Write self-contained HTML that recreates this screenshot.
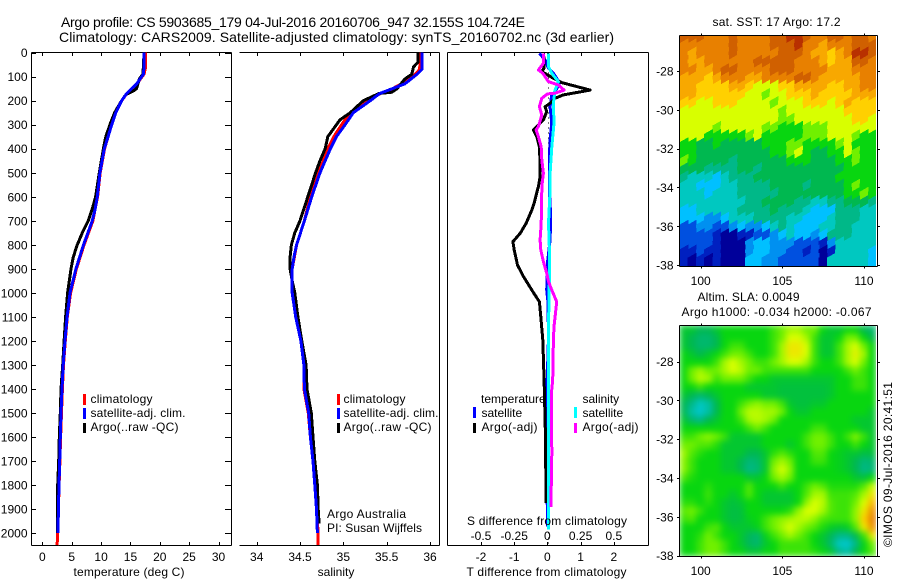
<!DOCTYPE html>
<html lang="en">
<head>
<meta charset="utf-8">
<title>Argo profile 5903685_179</title>
<style>
html,body{margin:0;padding:0;background:#fff}
svg{display:block}
text{font-family:"Liberation Sans",sans-serif;font-size:12px;fill:#000}
.t14{font-size:14px}
</style>
</head>
<body>
<svg id="fig" width="900" height="580" viewBox="0 0 900 580" xmlns="http://www.w3.org/2000/svg">
<defs>
<clipPath id="clipT"><rect x="31" y="52" width="201" height="494"/></clipPath>
<clipPath id="clipS"><rect x="239" y="52" width="201" height="494"/></clipPath>
<clipPath id="clipD"><rect x="447" y="52" width="202" height="494"/></clipPath>
<clipPath id="clipM1"><rect x="680" y="35" width="196" height="231"/></clipPath>
<clipPath id="clipM2"><rect x="680" y="325" width="196" height="231"/></clipPath>
<filter id="smooth" x="0" y="0" width="100%" height="100%" color-interpolation-filters="sRGB"><feGaussianBlur stdDeviation="3.2" edgeMode="duplicate"/></filter>
</defs>
<rect width="900" height="580" fill="#fff"/>
<text class="t14" x="61" y="27" textLength="464" lengthAdjust="spacing">Argo profile: CS 5903685_179 04-Jul-2016 20160706_947 32.155S 104.724E</text>
<text class="t14" x="59" y="42" textLength="555" lengthAdjust="spacing">Climatology: CARS2009. Satellite-adjusted climatology: synTS_20160702.nc (3d earlier)</text>

<g id="panelT"></g>
<g id="panelS"></g>
<g id="panelD"></g>
<g id="map1"></g>
<g id="map2"></g>

<text x="129" y="576" text-anchor="middle" textLength="111" lengthAdjust="spacing">temperature (deg C)</text>
<text x="336" y="576" text-anchor="middle">salinity</text>
<text x="546.5" y="576" text-anchor="middle" textLength="160" lengthAdjust="spacing">T difference from climatology</text>
<text x="547" y="525" text-anchor="middle" textLength="160" lengthAdjust="spacing">S difference from climatology</text>

<g>
<rect x="83" y="394" width="3" height="11" fill="#f00"/>
<rect x="83" y="408" width="3" height="11" fill="#00f"/>
<rect x="83" y="423" width="3" height="10" fill="#000"/>
<text x="90.5" y="403" textLength="62" lengthAdjust="spacing">climatology</text>
<text x="90.5" y="417" textLength="95" lengthAdjust="spacing">satellite-adj. clim.</text>
<text x="90.5" y="431" textLength="88" lengthAdjust="spacing">Argo(..raw -QC)</text>
</g>
<g>
<rect x="337" y="394" width="3" height="11" fill="#f00"/>
<rect x="337" y="408" width="3" height="11" fill="#00f"/>
<rect x="337" y="423" width="3" height="10" fill="#000"/>
<text x="343.5" y="403" textLength="62" lengthAdjust="spacing">climatology</text>
<text x="343.5" y="417" textLength="95" lengthAdjust="spacing">satellite-adj. clim.</text>
<text x="343.5" y="431" textLength="88" lengthAdjust="spacing">Argo(..raw -QC)</text>
</g>
<g>
<text x="481" y="403">temperature</text>
<rect x="473" y="407" width="3" height="11" fill="#00f"/>
<rect x="473" y="423" width="3" height="10" fill="#000"/>
<text x="481.5" y="417">satellite</text>
<text x="481.5" y="431" textLength="56" lengthAdjust="spacing">Argo(-adj)</text>
<text x="582.5" y="403">salinity</text>
<rect x="574" y="407" width="3" height="11" fill="#0ff"/>
<rect x="574" y="423" width="3" height="10" fill="#f0f"/>
<text x="582.5" y="417">satellite</text>
<text x="582.5" y="431" textLength="56" lengthAdjust="spacing">Argo(-adj)</text>
</g>
<text x="327" y="518" textLength="79" lengthAdjust="spacing">Argo Australia</text>
<text x="327" y="532" textLength="95" lengthAdjust="spacing">PI: Susan Wijffels</text>

<text x="712.5" y="26" textLength="128" lengthAdjust="spacing">sat. SST: 17 Argo: 17.2</text>
<text x="697.5" y="301" textLength="102" lengthAdjust="spacing">Altim. SLA: 0.0049</text>
<text x="681.5" y="316" textLength="190" lengthAdjust="spacing">Argo h1000: -0.034 h2000: -0.067</text>
<text transform="translate(892,547) rotate(-90)" textLength="165" lengthAdjust="spacing">©IMOS 09-Jul-2016 20:41:51</text>
</svg>

<script>
// ---------- temperature panel data (deg C) ----------
const climTempDepth = [0,60,90,130,170,200,250,300,350,400,500,600,650,700,800,900,1000,1100,1200,1300,1400,1500,1600,1700,1800,1900,2000,2050];
const climTemp = [17.6,17.6,17.3,16.1,14.4,13.5,12.5,11.8,11.2,10.6,9.85,9.4,9.0,8.6,7.1,5.8,4.8,4.25,3.9,3.6,3.4,3.25,3.1,2.98,2.85,2.72,2.6,2.5];
const satTempDepth = [0,60,90,130,170,200,250,300,350,400,500,600,650,700,800,900,1000,1100,1200,1300,1400,1500,1600,1700,1800,1900,2000];
const satTemp = [17.3,17.3,17.2,16.06,14.36,13.5,12.5,11.8,11.2,10.55,9.8,9.35,9.0,8.5,7.0,5.7,4.7,4.2,3.85,3.55,3.34,3.17,3.05,2.95,2.83,2.72,2.66];
const argoTempDepth = [0,60,90,110,150,160,175,200,250,300,350,400,500,600,650,700,750,800,850,900,1000,1100,1200,1300,1400,1500,1600,1700,1800,1900,2000];
const argoTemp = [17.3,17.2,17.1,16.5,16.05,15.5,14.2,13.5,12.3,11.5,10.8,10.4,9.7,9.07,8.5,7.8,6.8,5.95,5.27,4.87,4.3,3.95,3.7,3.45,3.17,3.05,2.88,2.77,2.6,2.6,2.6];
const tempTicks = [0,5,10,15,20,25,30];
const depthTicks = [0,100,200,300,400,500,600,700,800,900,1000,1100,1200,1300,1400,1500,1600,1700,1800,1900,2000];

// ---------- salinity panel data (psu) ----------
const climSalDepth = [0,70,90,130,150,170,200,250,300,350,400,450,500,600,700,800,900,1000,1100,1200,1300,1400,1500,1600,1700,1800,1900,2000,2050];
const climSal = [35.89,35.88,35.83,35.67,35.57,35.43,35.28,35.08,34.98,34.89,34.82,34.77,34.71,34.62,34.55,34.46,34.41,34.41,34.45,34.51,34.545,34.545,34.595,34.62,34.65,34.67,34.69,34.71,34.71];
const satSalDepth = [0,70,90,130,170,200,250,300,350,400,450,500,600,700,800,850,900,1000,1100,1200,1300,1400,1500,1600,1700,1800,1900,2000];
const satSal = [35.907,35.907,35.85,35.71,35.42,35.31,35.115,35.02,34.92,34.85,34.79,34.73,34.635,34.55,34.46,34.43,34.41,34.41,34.45,34.51,34.545,34.55,34.6,34.62,34.65,34.67,34.69,34.7];
const argoSalDepth = [0,40,60,90,110,150,165,170,200,220,250,280,320,350,400,450,500,600,700,750,800,850,900,950,1000,1100,1200,1300,1400,1500,1600,1700,1800,1900,1960];
const argoSal = [35.86,35.86,35.81,35.79,35.71,35.62,35.56,35.41,35.23,35.17,35.08,34.96,34.88,34.82,34.79,34.73,34.68,34.59,34.5,34.44,34.4,34.385,34.385,34.41,34.44,34.475,34.52,34.57,34.58,34.63,34.65,34.67,34.7,34.71,34.72];
const salTicks = [34,34.5,35,35.5,36];

// ---------- difference panel data ----------
const satTDiffDepth = [3,31,65,86,107,128,163,176,225,294,364,433,558,572,683,780,877,988,1043,1196,1432,1598,1916,1972];
const satTDiff = [-0.24,-0.07,0.03,0.18,0.28,0.36,0.23,0.13,0.08,0.13,0.08,0.06,0.06,0.06,0.1,0.08,0,-0.02,0.02,0.03,-0.02,-0.04,0,0.01];
const argoTDiffDepth = [3,30,65,79,107,125,156,176,190,211,225,246,280,322,350,392,461,516,558,572,627,655,710,752,787,821,884,932,988,1037,1099,1196,1362,1466,1584,1875];
const argoTDiff = [-0.12,-0.1,-0.1,-0.17,0.18,0.43,1.29,0.48,0.23,0.08,-0.07,-0.02,-0.12,-0.42,-0.32,-0.24,-0.22,-0.22,-0.27,-0.3,-0.4,-0.47,-0.64,-0.82,-1.04,-1.0,-0.9,-0.72,-0.47,-0.24,-0.2,-0.14,-0.1,-0.08,-0.06,-0.04];
const satSDiffDepth = [3,59,86,121,156,211,294,392,502,558,572,710,821,932,1140,1362,1500,1916,1985];
const satSDiff = [0.008,0.008,0.033,0.083,0.058,0.045,0.05,0.033,0.02,0.02,0.02,0.008,0.015,0.015,0.008,0.008,0.01,0.008,0.008];
const argoSDiffDepth = [3,45,72,86,121,135,156,169,172,190,225,260,308,322,350,392,447,502,558,572,710,780,821,870,918,953,988,1037,1099,1140,1196,1362,1418,1668,1890];
const argoSDiff = [-0.03,-0.03,-0.068,-0.035,0.008,0.083,0.126,0.058,0,-0.042,-0.06,-0.042,-0.068,-0.085,-0.068,-0.047,-0.042,-0.03,-0.042,-0.042,-0.047,-0.055,-0.05,-0.03,-0.005,0.008,0.033,0.07,0.058,0.05,0.045,0.04,0.03,0.033,0.026];
const tDiffTicks = [-2,-1,0,1,2];
const sDiffTicks = [-0.5,-0.25,0,0.25,0.5];
const sDiffTickLabels = ['-0.5','-0.25','0','0.25','0.5'];

// ---------- map axes ----------
const lonTicks = [100,105,110];
const latTicks = [-28,-30,-32,-34,-36,-38];

// ---------- SST map grid, colour level per cell, north to south ----------
const sstGrid = [
[14,14,14,13,13,13,14,13,13,13,13,14,14,15,15,14,13,13,14,14,13,14,14,13],
[13,13,13,13,13,13,14,13,13,13,13,14,14,14,15,13,13,12,13,13,13,14,14,14],
[13,12,13,13,13,13,14,13,13,13,13,13,14,14,14,13,12,12,11,12,13,15,15,14],
[13,12,12,13,13,13,13,13,13,14,14,14,14,14,13,13,13,12,11,12,12,14,14,13],
[13,13,12,12,13,14,14,13,13,13,13,14,14,14,13,13,13,13,12,12,12,13,13,13],
[12,12,12,11,12,13,13,13,12,12,13,13,13,13,14,14,13,12,12,12,12,12,13,13],
[12,12,11,11,11,11,12,12,11,10,10,10,11,11,12,12,12,12,11,11,12,12,13,13],
[12,12,11,11,11,11,11,11,10,10,9,10,10,11,11,11,12,11,11,11,11,12,12,12],
[11,11,10,10,11,11,11,10,10,10,10,9,10,10,10,11,11,11,10,11,12,11,11,11],
[10,10,10,10,10,10,10,10,10,10,10,10,9,10,10,10,10,10,10,10,11,11,11,11],
[10,10,10,10,10,10,10,10,10,10,10,10,9,9,10,10,10,10,10,10,10,11,11,10],
[10,10,10,10,9,10,10,10,10,10,9,9,8,8,8,9,9,9,10,10,10,10,10,10],
[10,10,10,8,8,8,8,8,9,10,8,8,8,8,8,9,9,9,10,10,10,9,8,8],
[8,8,7,7,8,7,7,7,7,7,8,8,8,9,9,8,8,8,8,9,10,8,8,8],
[8,8,7,7,7,7,7,7,7,7,7,8,8,9,10,8,7,7,8,8,10,9,8,8],
[9,8,7,7,7,7,6,7,7,7,7,7,7,8,8,8,7,7,7,8,8,9,8,8],
[7,7,7,6,6,6,6,7,7,6,7,7,7,7,7,7,7,7,7,7,8,8,8,8],
[6,5,5,5,4,5,6,6,6,7,7,7,7,7,7,7,7,7,7,8,8,8,8,8],
[5,5,4,4,4,5,5,6,6,6,6,7,7,7,7,6,7,7,7,7,8,9,8,8],
[5,5,5,4,5,5,5,6,6,6,6,6,7,7,7,7,7,7,7,7,8,8,9,8],
[5,5,5,5,5,5,5,5,6,6,7,7,7,7,6,6,5,5,6,6,7,7,7,6],
[4,4,5,5,5,5,5,6,6,6,6,7,6,6,6,5,4,4,4,6,6,6,5,5],
[4,4,4,3,3,4,5,5,5,6,6,6,6,5,5,4,4,4,5,6,6,6,5,5],
[2,2,3,3,2,2,3,4,3,3,4,5,6,5,4,4,4,5,5,6,6,5,5,5],
[2,2,2,2,1,0,0,1,1,2,2,3,4,5,4,4,3,4,6,6,6,5,5,5],
[2,2,2,2,1,0,0,0,3,4,4,3,3,3,2,2,2,1,3,5,5,5,5,5],
[1,1,2,1,1,0,0,0,3,4,4,3,3,2,2,1,2,0,1,5,5,5,5,4],
[1,0,1,0,1,0,0,0,4,4,3,3,2,2,2,2,2,0,5,5,5,5,5,4]
];

// ---------- SLA map grid, colour level per cell, north to south ----------
const slaGrid = [
[7.5,7.5,7,7,7.5,8,8,8,8,8,8,8.5,9,9.5,9.5,9,9,8,7.5,7.5,8,8,7,6.5],
[7.5,7,6.5,6.5,7,8,8,8,8,8,8,8.5,9,10,10,9.5,8.5,7.5,7.5,8,9,9,8,7],
[7.5,7,6.5,6.5,7,8,8.5,8.5,8,8,8,8.5,9.5,10.5,10.5,10,8.5,7.5,7.5,8.5,9.5,10,9,8],
[8,7.5,7,7.5,8,8.5,9,9,8.5,8,8,8.5,9.5,10.5,10.5,10,8.5,7.5,7.5,8.5,9.5,10.3,9.5,8],
[8,8,8,8,8.5,9.5,10,9.5,9,8.5,8.5,9,9.5,10,10,9.5,8.5,8,8,8.5,9.5,10,9,8],
[8,9,9.5,9,9,9.5,10,9.7,9,9,8.5,8.5,8.5,8.5,8.5,8.5,8,8,8,8,8.5,9,8.5,8],
[8,9,9.7,9.5,8.5,9,9,9,8.5,8,8,7.5,7.5,7.5,7.5,7.5,7.5,7.5,7.5,8,8,8.5,8.5,8],
[8,8,8.5,8,8,8,8,8,7.5,7.5,7.5,7.5,7.3,7.3,7.3,7.3,7.3,7.3,7.5,8,8,8.5,8.5,8],
[7.5,7,6.5,7,7.5,8,8,8,8,8,7.5,7.5,7.3,7.3,7.3,7.3,7.3,7.3,7.5,8,8,8,8,8],
[7,6,5,5.5,7,8,8,8.5,9,9.3,9,9,8.5,7.5,7.3,7.3,7.5,7.5,8,8,8,8,8,8],
[7,5.5,4.8,5.5,7,8,8,9,9.7,9.7,9.5,9.5,9,8,7.5,7.5,8,8,8,8,8,8,8,7.5],
[7.5,6.5,6,7,7.5,8,8,8.5,9.5,9.7,9.5,9,8,8,8,8,8,8,8,8,8,7.5,7.5,7.5],
[8,8,8,8,8,8,8,8,8.5,9,8.5,8,8,8,8,8,8.5,8.5,8,8,8,8,7.5,7.5],
[8.5,8.5,9,9.3,9,8.5,7.5,7.5,7.5,7.5,8,8,8,8,8,8.5,9,9,8.5,8,8.5,9.2,8.5,7.5],
[9,9,8.7,8.7,8.3,7.5,7.5,7.5,7.5,7.5,8,8,8,7.5,8,8.5,9,9,8.5,8,8,8.5,8,7.5],
[9.5,8.7,8.3,8,8,7.5,7.5,7.5,7,7,7.5,8.3,8.7,8.3,8,8,8.7,8.7,8,7.8,7.5,7.5,7.2,7.3],
[9.3,8.5,8,8,8,7.5,7.5,7,6.3,6.5,7.5,9,9.5,9,8,8,8.5,8.5,8,7.8,7.5,7,6.3,6.5],
[9.3,8.5,8,8,8,7.5,7.5,7,6,6.3,7.5,9.3,10,9.3,8,8,8,8,8,7.8,7.5,7,6,6.3],
[8.7,8.2,8,8,8,8,8,8,7.5,7.5,8,9,9.5,9,8,8,8,8,8,8,8,7.5,7.3,8],
[8,8,8,8.3,8,8,8,8,8.7,8,8,8,8.5,8,8,8.5,9,8.7,8.2,8.2,8.2,8.2,8.7,9.8],
[8,8,8,8.5,8,8,7.5,8,8.7,8,7.5,7.5,7.5,7.5,8,8.7,9.5,9.5,8.5,8.5,8.5,8.7,9.5,10.5],
[8.3,8.3,8,8.3,8,7.5,7.3,7.5,8,8,7.5,7.5,7.5,7.5,8,9.3,10,9.7,8.7,8.5,8.5,9,10,11.5],
[8.8,9,8.5,8,8,7.5,7.2,7.3,8,8,8,8,8,8.3,9.3,10,10,9.5,8.7,8.5,8.5,9.3,10.5,12.5],
[8.5,8.7,8,8,8,7.5,7.2,7.3,7.8,8,8.5,9,9.3,9.5,9.7,9.7,9.3,8.7,8.5,8.5,8.5,9.3,11,13],
[8,8,8,8.5,8.7,8,7.5,7.5,7.5,7.8,8.5,9,9.5,10,9.5,9,8.7,8.2,7.7,7.5,7.7,8.7,10.5,12.5],
[8,8,8.3,9,8.5,8,8,7.5,6.8,6.5,7.8,8.5,9,9.5,9,8.5,8,7.5,6.8,6,6,7,8.5,10.5],
[8,8,8.5,9,9,8.5,8,7.5,6.8,6.5,7.5,8,8.5,8.5,8.5,8.5,8,7.5,6.5,5,4.8,6,7.8,9],
[8,8,8.5,9,9,8.5,8,8,7.5,7.5,8,8,8.5,8.5,8.5,8.5,8.3,8,7.5,6,5.5,7,8,8.7]
];

// colour ramp, one colour per integer level
const rampColors = [[0,0,154],[0,32,192],[0,80,224],[0,144,240],[0,192,255],[0,200,192],[0,184,136],[0,184,80],[8,214,16],[112,240,0],[216,255,0],[255,208,0],[248,168,0],[232,128,0],[208,96,0],[184,48,0]];

const SVGNS = 'http://www.w3.org/2000/svg';
function make(parent, tag, attrs, txt) {
  const el = document.createElementNS(SVGNS, tag);
  for (const k in attrs) el.setAttribute(k, attrs[k]);
  if (txt !== undefined) el.textContent = txt;
  parent.appendChild(el);
  return el;
}
const yDepth = d => 52.6 + 0.2403 * d;
const xTemp = t => 42.4 + 5.87 * t;
const xSal = s => 256.7 + 86.65 * (s - 34);
const xTDiff = t => 547.4 + 33.2 * t;
const xSDiff = s => 547.4 + 132.8 * s;
const xLon1 = lon => 700.7 + 16.33 * (lon - 100);
const yLat1 = lat => 71 - 19.41 * (lat + 28);
const yLat2 = lat => 361.5 - 19.41 * (lat + 28);

function axisLine(parent, x1, y1, x2, y2) {
  const el = make(parent, 'line', {x1, y1, x2, y2, stroke:'#000', 'stroke-width':1, 'shape-rendering':'crispEdges'});
  
  
  return el;
}
function tickLabel(parent, x, y, anchor, label) {
  const el = make(parent, 'text', {x, y, 'text-anchor':anchor}, label);
  
  
  return el;
}
function profile(parent, clipId, xs, ys, color, width) {
  const pts = xs.map((x, i) => x.toFixed(1) + ',' + ys[i].toFixed(1)).join(' ');
  return make(parent, 'polyline', {points:pts, fill:'none', stroke:color, 'stroke-width':width, 'stroke-linejoin':'round', 'shape-rendering':'crispEdges', 'clip-path':'url(#' + clipId + ')'});
}
function frame(parent, l, r, hasLeft, hasRight) {
  axisLine(parent, l, 52.5, r, 52.5);
  axisLine(parent, l, 545.5, r, 545.5);
  if (hasLeft) axisLine(parent, l, 52.5, l, 545.5);
  if (hasRight) axisLine(parent, r, 52.5, r, 545.5);
}

// ----- temperature panel -----
const pT = document.getElementById('panelT');
frame(pT, 31.5, 231.5, true, true);
depthTicks.forEach(d => {
  const y = Math.round(yDepth(d)) + 0.5;
  axisLine(pT, 31.5, y, 36, y);
  axisLine(pT, 225, y, 231.5, y);
  tickLabel(pT, 27.5, yDepth(d) + 4.5, 'end', String(d));
});
tempTicks.forEach(t => {
  const x = Math.round(xTemp(t)) + 0.5;
  axisLine(pT, x, 52.5, x, 56);
  axisLine(pT, x, 542, x, 545.5);
  tickLabel(pT, xTemp(t), 561, 'middle', String(t));
});
const lineClimT = profile(pT, 'clipT', climTemp.map(xTemp), climTempDepth.map(yDepth), '#f00', 3);


const lineArgoT = profile(pT, 'clipT', argoTemp.map(xTemp), argoTempDepth.map(yDepth), '#000', 3);


const lineSatT = profile(pT, 'clipT', satTemp.map(xTemp), satTempDepth.map(yDepth), '#00f', 3);



// ----- salinity panel -----
const pS = document.getElementById('panelS');
frame(pS, 239.5, 439.5, false, true);
salTicks.forEach(s => {
  const x = Math.round(xSal(s)) + 0.5;
  axisLine(pS, x, 52.5, x, 56);
  axisLine(pS, x, 542, x, 545.5);
  tickLabel(pS, xSal(s), 561, 'middle', String(s));
});
const lineClimS = profile(pS, 'clipS', climSal.map(xSal), climSalDepth.map(yDepth), '#f00', 3);


const lineArgoS = profile(pS, 'clipS', argoSal.map(xSal), argoSalDepth.map(yDepth), '#000', 3);


const lineSatS = profile(pS, 'clipS', satSal.map(xSal), satSalDepth.map(yDepth), '#00f', 3);



// ----- difference panel -----
const pD = document.getElementById('panelD');
frame(pD, 447.5, 648.5, true, true);
tDiffTicks.forEach(t => {
  const x = Math.round(xTDiff(t)) + 0.5;
  axisLine(pD, x, 52.5, x, 56);
  axisLine(pD, x, 542, x, 545.5);
  tickLabel(pD, xTDiff(t), 561, 'middle', String(t));
});
sDiffTicks.forEach((s, i) => {
  tickLabel(pD, xSDiff(s), 540, 'middle', sDiffTickLabels[i]);
});
const zeroLine = make(pD, 'line', {x1:548.5, y1:52.5, x2:548.5, y2:545, stroke:'#000', 'stroke-width':1, 'stroke-dasharray':'1 4', 'shape-rendering':'crispEdges'});


const lineSatTD = profile(pD, 'clipD', satTDiff.map(xTDiff), satTDiffDepth.map(yDepth), '#00f', 3);


const lineArgoTD = profile(pD, 'clipD', argoTDiff.map(xTDiff), argoTDiffDepth.map(yDepth), '#000', 3);


const lineSatSD = profile(pD, 'clipD', satSDiff.map(xSDiff), satSDiffDepth.map(yDepth), '#0ff', 3);


const lineArgoSD = profile(pD, 'clipD', argoSDiff.map(xSDiff), argoSDiffDepth.map(yDepth), '#f0f', 3);



// ----- maps -----
function levelColor(v) {
  const lo = Math.max(0, Math.min(rampColors.length - 1, Math.floor(v)));
  const hi = Math.min(rampColors.length - 1, lo + 1);
  const f = Math.max(0, Math.min(1, v - lo));
  const c = [0,1,2].map(i => Math.round(rampColors[lo][i] + (rampColors[hi][i] - rampColors[lo][i]) * f));
  return 'rgb(' + c.join(',') + ')';
}
// lean gives the cells a rising top edge, producing the streaky look of the SST field
function heatmap(parent, grid, top, h, clipId, filterId, lean) {
  const left = 679.5, w = 196.5;
  const g = make(parent, 'g', {'clip-path':'url(#' + clipId + ')'});
  const inner = make(g, 'g', filterId ? {filter:'url(#' + filterId + ')'} : {});
  const cw = w / grid[0].length, ch = h / grid.length;
  grid.forEach((row, r) => row.forEach((v, c) => {
    const x0 = left + c * cw, x1 = x0 + cw + 0.6, y0 = top + r * ch, y1 = y0 + ch + lean + 0.6;
    const pts = [[x0, y0], [x1, y0 - lean], [x1, y1], [x0, y1]].map(p => p[0].toFixed(2) + ',' + p[1].toFixed(2)).join(' ');
    const cell = make(inner, 'polygon', {points:pts, fill:levelColor(v), 'shape-rendering':'crispEdges'});
    
    
  }));
}
function mapFrame(parent, top, bottom, yLat, labelY) {
  axisLine(parent, 679.5, top, 877.5, top);
  axisLine(parent, 679.5, bottom, 877.5, bottom);
  axisLine(parent, 679.5, top, 679.5, bottom);
  axisLine(parent, 877.5, top, 877.5, bottom);
  lonTicks.forEach(lon => {
    const x = Math.round(xLon1(lon)) + 0.5;
    axisLine(parent, x, top - 2, x, top);
    axisLine(parent, x, bottom, x, bottom + 2);
    tickLabel(parent, xLon1(lon), labelY, 'middle', String(lon));
  });
  latTicks.forEach(lat => {
    const y = Math.round(yLat(lat)) + 0.5;
    axisLine(parent, 677, y, 679.5, y);
    axisLine(parent, 877.5, y, 880, y);
    tickLabel(parent, 673.5, yLat(lat) + 4.5, 'end', String(lat));
  });
}
const m1 = document.getElementById('map1');
heatmap(m1, sstGrid, 35, 231, 'clipM1', null, 5);
mapFrame(m1, 35.5, 266.5, yLat1, 285);
const m2 = document.getElementById('map2');
heatmap(m2, slaGrid, 325, 231, 'clipM2', 'smooth', 0);
mapFrame(m2, 325.5, 556.5, yLat2, 575);
</script>
</body>
</html>
